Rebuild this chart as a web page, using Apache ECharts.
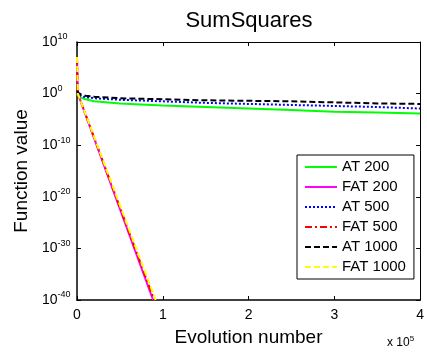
<!DOCTYPE html>
<html><head><meta charset="utf-8">
<script src="https://cdn.jsdelivr.net/npm/echarts@6/dist/echarts.min.js"></script>
<style>html,body{margin:0;padding:0;background:#fff}#c{width:427px;height:352px}</style>
</head><body><div id="c"></div>
<script>
// x values (evolution number) and log10 of function values
const atX = [0, 2000, 5000, 10000, 20000, 50000, 100000, 150000, 200000, 250000, 300000, 350000, 400000];
const at200Log = [0, -0.5, -0.8, -1.1, -1.5, -1.9, -2.3, -2.6, -2.9, -3.2, -3.5, -3.65, -3.85];
const at500Log = [0.3, -0.2, -0.5, -0.7, -0.9, -1.2, -1.5, -1.8, -2.0, -2.2, -2.4, -2.6, -2.9];
const at1000Log = [0.5, 0.1, -0.2, -0.4, -0.6, -0.9, -1.1, -1.3, -1.4, -1.5, -1.7, -1.9, -2.0];
const fat200X = [0, 1000, 88700];
const fat200Log = [7, 0, -40];
const fat500X = [0, 1000, 90000];
const fat500Log = [7, 0, -40];
const fat1000X = [0, 1000, 91700];
const fat1000Log = [7.1, 0, -40];
const xTicks = ['0', '1', '2', '3', '4'];
const seriesNames = ['AT 200', 'FAT 200', 'AT 500', 'FAT 500', 'AT 1000', 'FAT 1000'];

// y axis works in decades (log10 of the function value)
const pts = (xs, ls) => xs.map((x, i) => [x, ls[i]]);
const font = '"Liberation Sans", Arial, sans-serif';

const chart = echarts.init(document.getElementById('c'), null, {renderer: 'canvas'});
const yLabelRich = {
  b: {fontSize: 14, fontFamily: font, color: '#000'},
  s: {fontSize: 9, fontFamily: font, color: '#000', padding: [0, 0, 10, 0]}
};
const mk = (name, data, color, type) => ({
  name, type: 'line', data, showSymbol: false, symbol: 'none', animation: false,
  lineStyle: {color, width: 2, type}, itemStyle: {color}, xAxisIndex: 0, yAxisIndex: 0
});
chart.setOption({
  animation: false,
  backgroundColor: '#fff',
  title: {text: 'SumSquares', left: 249, top: 10, padding: 0, textAlign: 'center',
    textStyle: {fontFamily: font, fontSize: 22, fontWeight: 'normal', color: '#000'}},
  grid: {left: 77, top: 42, right: 5, bottom: 48},
  xAxis: [{
    type: 'value', min: 0, max: 400000, interval: 100000,
    name: 'Evolution number', nameLocation: 'middle', nameGap: 28,
    nameTextStyle: {fontFamily: font, fontSize: 19, color: '#000'},
    axisLine: {onZero: false, lineStyle: {color: '#000', width: 1.5}},
    axisTick: {inside: true, length: 4, lineStyle: {color: '#000'}},
    axisLabel: {fontFamily: font, fontSize: 14, color: '#000', margin: 8,
      formatter: v => xTicks[Math.round(v / 100000)]},
    splitLine: {show: false}
  }, {
    type: 'value', position: 'top', min: 0, max: 400000, interval: 100000,
    axisLine: {show: true, onZero: false, lineStyle: {color: '#000', width: 1}},
    axisTick: {inside: true, length: 4, lineStyle: {color: '#000'}},
    axisLabel: {show: false}, splitLine: {show: false}
  }],
  yAxis: [{
    type: 'value', min: -40, max: 10, interval: 10,
    name: 'Function value', nameLocation: 'middle', nameGap: 46,
    nameTextStyle: {fontFamily: font, fontSize: 19, color: '#000'},
    axisLine: {show: true, onZero: false, lineStyle: {color: '#000', width: 1.5}},
    axisTick: {show: true, inside: true, length: 4, lineStyle: {color: '#000'}},
    axisLabel: {align: 'left', margin: 35, rich: yLabelRich,
      formatter: v => '{b|10}{s|' + Math.round(v) + '}'},
    splitLine: {show: false}
  }, {
    type: 'value', position: 'right', min: -40, max: 10, interval: 10,
    axisLine: {show: true, onZero: false, lineStyle: {color: '#000', width: 1}},
    axisTick: {show: true, inside: true, length: 4, lineStyle: {color: '#000'}},
    axisLabel: {show: false}, splitLine: {show: false}
  }],
  legend: {
    data: seriesNames, orient: 'vertical', left: 297, top: 155,
    backgroundColor: '#fff', borderColor: '#000', borderWidth: 1, borderRadius: 0,
    padding: [4, 8, 4, 7], itemGap: 4, itemWidth: 32, itemHeight: 10,
    itemStyle: {opacity: 0, borderWidth: 0},
    textStyle: {fontFamily: font, fontSize: 15, color: '#000', lineHeight: 16}
  },
  graphic: [{
    type: 'text', left: 387, top: 335,
    style: {rich: {a: {fontSize: 12, fontFamily: font, fill: '#000'},
                   s: {fontSize: 8, fontFamily: font, fill: '#000', padding: [0, 0, 7, 0]}},
            text: '{a|x 10}{s|5}'}
  }],
  series: [
    mk('AT 200', pts(atX, at200Log), '#00ff00', 'solid'),
    mk('FAT 200', pts(fat200X, fat200Log), '#ff00ff', 'solid'),
    mk('AT 500', pts(atX, at500Log), '#0000ff', [2, 2]),
    mk('FAT 500', pts(fat500X, fat500Log), '#ff0000', [7, 3, 2, 3]),
    mk('AT 1000', pts(atX, at1000Log), '#000000', [6, 3]),
    mk('FAT 1000', pts(fat1000X, fat1000Log), '#ffff00', [6, 3])
  ]
});
</script></body></html>
